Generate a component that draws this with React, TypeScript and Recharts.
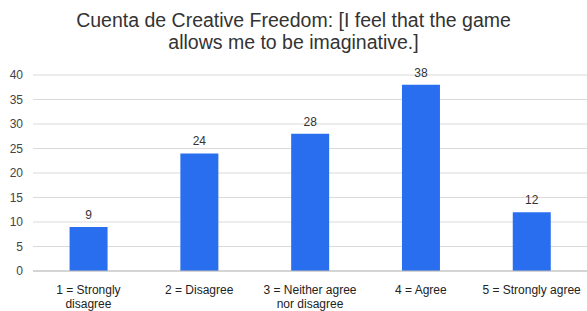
import React from "react";
import { BarChart, Bar, XAxis, YAxis, CartesianGrid, LabelList } from "recharts";

const categories = [
  "1 = Strongly\ndisagree",
  "2 = Disagree",
  "3 = Neither agree\nnor disagree",
  "4 = Agree",
  "5 = Strongly agree",
];
const counts = [9, 24, 28, 38, 12];
const yTicks = [0, 5, 10, 15, 20, 25, 30, 35, 40];
const titleLines = [
  "Cuenta de Creative Freedom: [I feel that the game",
  "allows me to be imaginative.]",
];

const data = categories.map((c, i) => ({ name: c, value: counts[i] }));

const FONT = '"Liberation Sans", Arial, sans-serif';

const XTick = (props: any) => {
  const { x, y, payload } = props;
  const lines = String(payload.value).split("\n");
  return (
    <text x={x} y={y} textAnchor="middle" fill="#222" fontSize={12} fontFamily={FONT}>
      {lines.map((l, i) => (
        <tspan key={i} x={x} dy={i === 0 ? 15 : 13.5}>
          {l}
        </tspan>
      ))}
    </text>
  );
};

export default function App() {
  return (
    <div
      style={{
        position: "absolute",
        left: 0,
        top: 0,
        width: 587,
        height: 311,
        background: "#fff",
        fontFamily: FONT,
      }}
    >
      <div
        style={{
          position: "absolute",
          left: 0,
          top: 9,
          width: 587,
          textAlign: "center",
          fontSize: 19.5,
          lineHeight: "22px",
          color: "#333",
        }}
      >
        {titleLines.map((t, i) => (
          <div key={i}>{t}</div>
        ))}
      </div>
      <BarChart
        width={587}
        height={311}
        data={data}
        margin={{ top: 75, right: 0, bottom: 0, left: 0 }}
        barCategoryGap="33%"
      >
        <CartesianGrid vertical={false} stroke="#dadada" />
        <XAxis
          dataKey="name"
          height={40}
          axisLine={{ stroke: "#bdbdbd" }}
          tickLine={false}
          interval={0}
          tick={<XTick />}
        />
        <YAxis
          width={33}
          domain={[0, 40]}
          ticks={yTicks}
          axisLine={false}
          tickLine={false}
          tickSize={0}
          tickMargin={10}
          tick={{ fill: "#444", fontSize: 12, fontFamily: FONT }}
        />
        <Bar dataKey="value" fill="#2a6ef0" isAnimationActive={false}>
          <LabelList
            dataKey="value"
            position="top"
            offset={8}
            fill="#333"
            fontSize={12}
            fontFamily={FONT}
          />
        </Bar>
      </BarChart>
    </div>
  );
}
